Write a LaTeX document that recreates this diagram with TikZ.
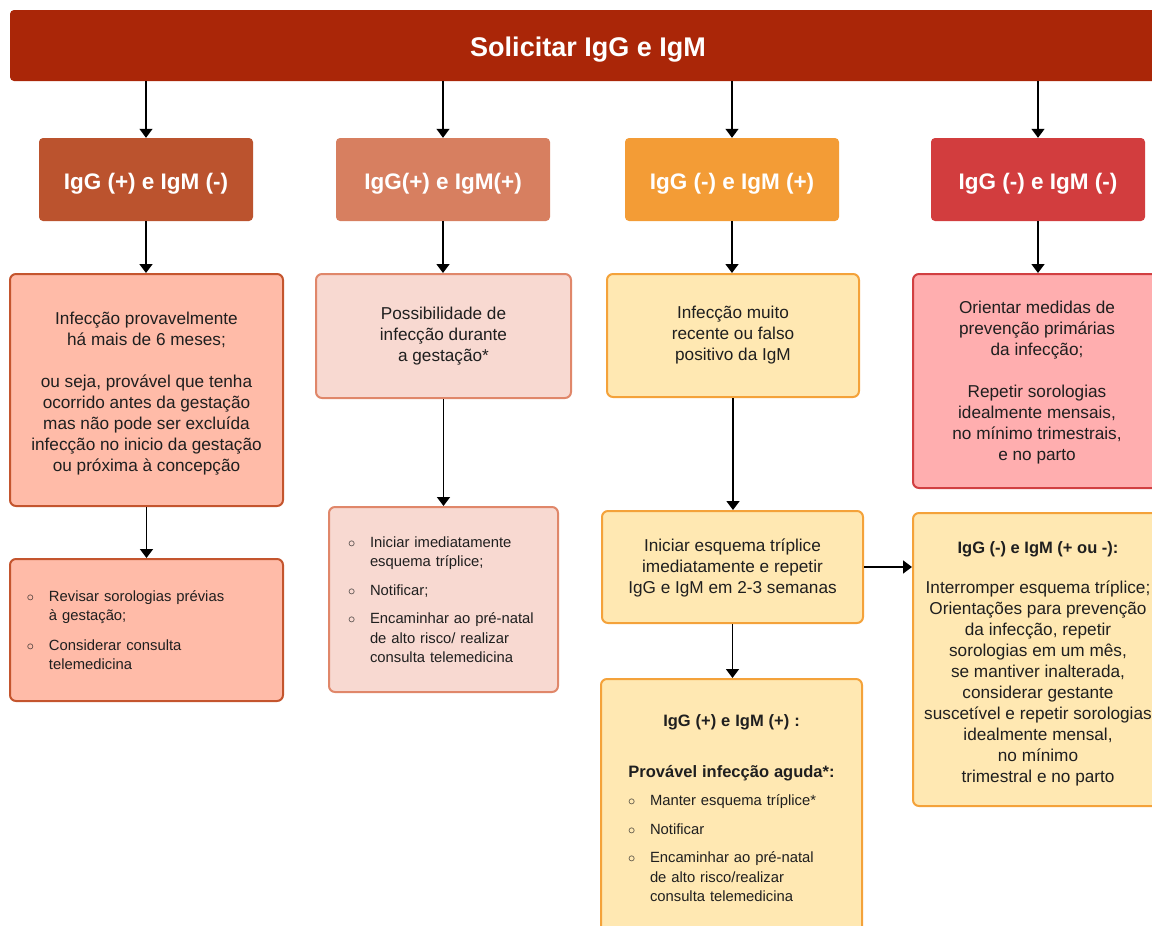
\documentclass[tikz,border=0pt]{standalone}
\usepackage{fontspec}
\setmainfont{Liberation Sans}
\usetikzlibrary{arrows.meta}
\setlength{\parindent}{0pt}
\definecolor{banner}{HTML}{AA2608}
\definecolor{hA}{HTML}{BB532E}
\definecolor{hB}{HTML}{D77F60}
\definecolor{hC}{HTML}{F39C36}
\definecolor{hD}{HTML}{D23D3E}
\definecolor{fA}{HTML}{FFBBA8}
\definecolor{dA}{HTML}{C4552E}
\definecolor{fB}{HTML}{F8D9D1}
\definecolor{dB}{HTML}{E0876A}
\definecolor{fC}{HTML}{FFE8B2}
\definecolor{dC}{HTML}{F4A23A}
\definecolor{fD}{HTML}{FFAEAF}
\definecolor{dD}{HTML}{D13F41}
\definecolor{ink}{HTML}{1F1F1F}
\newcommand\bl{\makebox[20pt][l]{\hspace*{-2pt}$\circ$}}
\newcommand\ind{\hspace*{20pt}}
\newcommand\ctrline[1]{\makebox[\hsize]{#1}}
\newcommand\sr[1]{\rule{0pt}{#1}}
\begin{document}
\begin{tikzpicture}[x=1pt,y=-1pt,
  bannerbox/.style={fill=banner, rounded corners=4pt, minimum width=1156pt, minimum height=71pt,
    text=white, font=\fontsize{27}{32}\selectfont\bfseries},
  headbox/.style={fill=#1, rounded corners=4pt, minimum width=214pt, minimum height=83pt,
    text=white, font=\fontsize{22.5}{26}\selectfont\bfseries, text height=22pt, text depth=3pt},
  bodybox/.style 2 args={fill=#1, draw=#2, line width=2pt, rounded corners=6pt, text=ink,
    align=center, font=\fontsize{17.2}{21}\selectfont},
  listbox/.style 2 args={fill=#1, draw=#2, line width=2pt, rounded corners=6pt, text=ink,
    align=left, font=\fontsize{14.8}{19.5}\selectfont},
  arr/.style={line width=1.5pt, -{Triangle[width=13pt,length=9pt]}}
]
\useasboundingbox (0,0) rectangle (1152,926);

% banner
\node[bannerbox, text depth=3pt, text height=25pt] (top) at (588,45.5) {Solicitar IgG e IgM};

% headers
\node[headbox=hA] (hA) at (146,179.5) {IgG (+) e IgM (-)};
\node[headbox=hB] (hB) at (443,179.5) {IgG(+) e IgM(+)};
\node[headbox=hC] (hC) at (732,179.5) {IgG (-) e IgM (+)};
\node[headbox=hD] (hD) at (1038,179.5) {IgG (-) e IgM (-)};

% second row
\node[bodybox={fA}{dA}, minimum width=273pt, minimum height=232pt] (bA) at (146.5,390)
  {\sr{20pt}Infecção provavelmente\\há mais de 6 meses;\\[21pt]ou seja, provável que tenha\\ocorrido antes da gestação\\mas não pode ser excluída\\infecção no inicio da gestação\\ou próxima à concepção};
\node[bodybox={fB}{dB}, minimum width=255pt, minimum height=124pt] (bB) at (443.5,336)
  {Possibilidade de\\infecção durante\\a gestação*};
\node[bodybox={fC}{dC}, minimum width=252pt, minimum height=123pt] (bC) at (733,335.5)
  {Infecção muito\\recente ou falso\\positivo da IgM};
\node[bodybox={fD}{dD}, minimum width=248pt, minimum height=214pt] (bD) at (1037,381)
  {\sr{16.5pt}Orientar medidas de\\prevenção primárias\\da infecção;\\[21pt]Repetir sorologias\\idealmente mensais,\\no mínimo trimestrais,\\e no parto};

% third row
\node[listbox={fA}{dA}, text width=235pt, inner xsep=19pt, minimum height=142pt] (cA) at (146.5,630)
  {\bl Revisar sorologias prévias\\ \ind à gestação;\\[10pt]\bl Considerar consulta\\ \ind telemedicina};
\node[listbox={fB}{dB}, text width=187pt, inner xsep=21pt, minimum height=185pt] (cB) at (443.5,599.5)
  {\bl Iniciar imediatamente\\ \ind esquema tríplice;\\[9pt]\bl Notificar;\\[9pt]\bl Encaminhar ao pré-natal\\ \ind de alto risco/ realizar\\ \ind consulta telemedicina};
\node[bodybox={fC}{dC}, minimum width=261pt, minimum height=112pt] (cC) at (732.5,567)
  {\sr{14pt}Iniciar esquema tríplice\\imediatamente e repetir\\IgG e IgM em 2-3 semanas};
\node[listbox={fC}{dC}, text width=203pt, inner xsep=29pt, minimum height=259pt] (dC) at (731.5,808.5)
  {\ctrline{\fontsize{16.5}{19.5}\selectfont\bfseries IgG (+) e IgM (+) :}\\[31pt]
   \ctrline{\fontsize{16.5}{19.5}\selectfont\bfseries Provável infecção aguda*:}\\[9pt]
   \bl Manter esquema tríplice*\\[9pt]\bl Notificar\\[9pt]\bl Encaminhar ao pré-natal\\ \ind de alto risco/realizar\\ \ind consulta telemedicina};
\node[bodybox={fC}{dC}, minimum width=250pt, minimum height=293pt] (eD) at (1038,659.5)
  {\sr{20pt}{\fontsize{16.5}{21}\selectfont\bfseries IgG (-) e IgM (+ ou -):}\\[19pt]Interromper esquema tríplice;\\Orientações para prevenção\\da infecção, repetir\\sorologias em um mês,\\se mantiver inalterada,\\considerar gestante\\suscetível e repetir sorologias\\idealmente mensal,\\no mínimo\\trimestral e no parto};

% connectors
\foreach \h in {hA,hB,hC,hD}
  \draw[arr] (top.south -| \h.north) -- (\h.north);
\draw[arr] (hA.south) -- (hA.south |- bA.north);
\draw[arr] (hB.south) -- (hB.south |- bB.north);
\draw[arr] (hC.south) -- (hC.south |- bC.north);
\draw[arr] (hD.south) -- (hD.south |- bD.north);
\draw[arr] (bA.south) -- (bA.south |- cA.north);
\draw[arr] (bB.south) -- (bB.south |- cB.north);
\draw[arr] (bC.south) -- (bC.south |- cC.north);
\draw[arr] (cC.south) -- (cC.south |- dC.north);
\draw[arr] (cC.east) -- (cC.east -| eD.west);
\end{tikzpicture}
\end{document}
